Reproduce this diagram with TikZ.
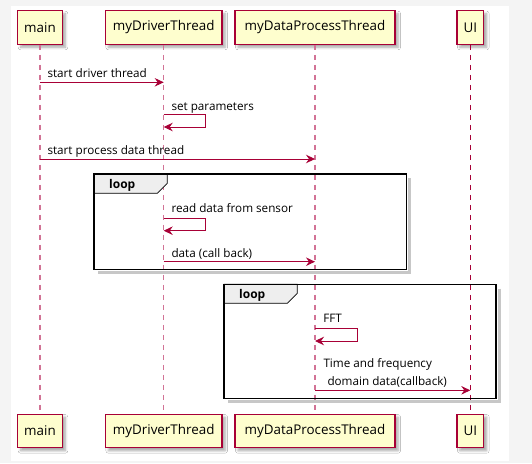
\documentclass[tikz,border=0pt]{standalone}
\usepackage{fontspec}
\setmainfont{Open Sans}
\usetikzlibrary{arrows.meta,shadows.blur,calc}
\definecolor{pred}{HTML}{A80036}
\definecolor{pfill}{HTML}{FEFECE}
\definecolor{bggray}{HTML}{F4F4F4}
\definecolor{tabgray}{HTML}{EEEEEE}
\definecolor{lifepink}{HTML}{D27396}
\begin{document}
\begin{tikzpicture}[x=1pt,y=-1pt,
  part/.style={draw=pred, fill=pfill, line width=1.2pt, minimum height=33.6pt, inner sep=0pt,
    font=\fontsize{13.4}{16}\selectfont,
    blur shadow={shadow xshift=3pt, shadow yshift=-3pt, shadow blur radius=2.5pt, shadow opacity=35}},
  life/.style={draw=lifepink, line width=1.3pt, dash pattern=on 5pt off 5pt},
  lifeui/.style={draw=pred, line width=0.8pt, dash pattern=on 5pt off 5pt},
  msg/.style={draw=pred, line width=0.9pt, -{Stealth[length=9pt,width=8.5pt,inset=3pt]}},
  lbl/.style={font=\fontsize{11.7}{14}\selectfont, anchor=base west, inner sep=0pt},
  frame/.style={draw=black, line width=1.5pt},
  fshadow/.style={draw=black!22, line width=3pt},
  tab/.style={draw=black, fill=tabgray, line width=0.8pt},
  tablbl/.style={font=\fontsize{12}{14}\selectfont\bfseries, anchor=base west, inner sep=0pt}
]
\fill[bggray] (0,0) rectangle (532,463);
\fill[white] (11,6) rectangle (508.5,461);
\useasboundingbox (0,0) rectangle (532,463);

% participants
\node[part, minimum width=44.6pt]  (mainT) at (40,27.5) {main};
\node[part, minimum width=116.6pt] (drvT)  at (163.7,27.5) {myDriverThread};
\node[part, minimum width=160pt]   (dpT)   at (315,27.5) {myDataProcessThread};
\node[part, minimum width=26.7pt]  (uiT)   at (470.3,27.5) {UI};
\node[part, minimum width=44.6pt]  (mainB) at (40,430.9) {main};
\node[part, minimum width=116.6pt] (drvB)  at (163.7,430.9) {myDriverThread};
\node[part, minimum width=160pt]   (dpB)   at (315,430.9) {myDataProcessThread};
\node[part, minimum width=26.7pt]  (uiB)   at (470.3,430.9) {UI};

% lifelines
\draw[life] (mainT.south) -- (mainB.north);
\draw[life] (drvT.south) -- (drvB.north);
\draw[life] (dpT.south) -- (dpB.north);
\draw[lifeui] (uiT.south) -- (uiB.north);

% loop frame 1
\draw[fshadow] (409.5,178) -- (409.5,272.2) -- (98,272.2);
\draw[tab] (94,174) -- (167.3,174) -- (167.3,183.3) -- (157.3,193.3) -- (94,193.3) -- cycle;
\draw[frame] (94,174) rectangle (406.7,269.3);
\node[tablbl] (loop1) at (109,188.5) {loop};

% loop frame 2
\draw[fshadow] (499,288.5) -- (499,401.2) -- (228,401.2);
\draw[tab] (224,284.3) -- (297.3,284.3) -- (297.3,293.3) -- (287.3,303.3) -- (224,303.3) -- cycle;
\draw[frame] (224,284.3) rectangle (496,398.3);
\node[tablbl] (loop2) at (239,298.8) {loop};

% message rows
\coordinate (r1) at (0,82.3);
\coordinate (r2) at (0,114.7);
\coordinate (r3) at (0,159);
\coordinate (r4) at (0,218);
\coordinate (r5) at (0,261.7);
\coordinate (r6) at (0,328.3);
\coordinate (r7) at (0,390.3);

% 1
\draw[msg] (mainT |- r1) -- (drvT |- r1);
\node[lbl] (t1) at ($(mainT |- r1)+(7.3,-4.8)$) {start driver thread};
% 2
\draw[msg] (drvT |- r2) -- ++(42,0) -- ++(0,12.3) -- ($(drvT |- r2)+(0,12.3)$);
\node[lbl] (t2) at ($(drvT |- r2)+(7.6,-4.7)$) {set parameters};
% 3
\draw[msg] (mainT |- r3) -- (dpT |- r3);
\node[lbl] (t3) at ($(mainT |- r3)+(7.3,-4.2)$) {start process data thread};
% 4
\draw[msg] (drvT |- r4) -- ++(42,0) -- ++(0,12.7) -- ($(drvT |- r4)+(0,12.7)$);
\node[lbl] (t4) at ($(drvT |- r4)+(7.6,-5.2)$) {read data from sensor};
% 5
\draw[msg] (drvT |- r5) -- (dpT |- r5);
\node[lbl] (t5) at ($(drvT |- r5)+(7.6,-4.5)$) {data (call back)};
% 6
\draw[msg] (dpT |- r6) -- ++(42.3,0) -- ++(0,12.7) -- ($(dpT |- r6)+(0,12.7)$);
\node[lbl] (t6) at ($(dpT |- r6)+(8.2,-5.5)$) {FFT};
% 7
\draw[msg] (dpT |- r7) -- (uiT |- r7);
\node[lbl] (t7a) at ($(dpT |- r7)+(8.3,-23)$) {Time and frequency};
\node[lbl] (t7b) at ($(dpT |- r7)+(12.3,-5.3)$) {domain data(callback)};
\end{tikzpicture}
\end{document}
